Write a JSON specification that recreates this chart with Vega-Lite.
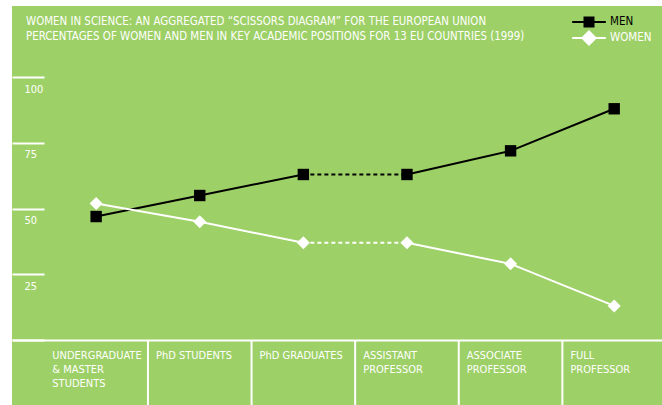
{
  "$schema": "https://vega.github.io/schema/vega-lite/v6.json",
  "autosize": "none",
  "width": 654,
  "height": 399,
  "padding": {"left": 12, "top": 6, "right": 0, "bottom": 0},
  "background": "white",
  "config": {
    "view": {"fill": "#9dd066", "stroke": null},
    "font": "DejaVu Sans Condensed"
  },
  "title": {
    "text": ["WOMEN IN SCIENCE: AN AGGREGATED “SCISSORS DIAGRAM” FOR THE EUROPEAN UNION", "PERCENTAGES OF WOMEN AND MEN IN KEY ACADEMIC POSITIONS FOR 13 EU COUNTRIES (1999)"],
    "anchor": "start",
    "frame": "group",
    "orient": "top",
    "baseline": "top",
    "offset": -36,
    "dx": 14,
    "font": "DejaVu Sans Condensed",
    "fontSize": 11.4,
    "fontWeight": "normal",
    "color": "white",
    "lineHeight": 15
  },
  "data": {
    "values": [
      {"category": "UNDERGRADUATE\n& MASTER\nSTUDENTS", "series": "MEN", "value": 47},
      {"category": "PhD STUDENTS", "series": "MEN", "value": 55},
      {"category": "PhD GRADUATES", "series": "MEN", "value": 63},
      {"category": "ASSISTANT\nPROFESSOR", "series": "MEN", "value": 63},
      {"category": "ASSOCIATE\nPROFESSOR", "series": "MEN", "value": 72},
      {"category": "FULL\nPROFESSOR", "series": "MEN", "value": 88},
      {"category": "UNDERGRADUATE\n& MASTER\nSTUDENTS", "series": "WOMEN", "value": 52},
      {"category": "PhD STUDENTS", "series": "WOMEN", "value": 45},
      {"category": "PhD GRADUATES", "series": "WOMEN", "value": 37},
      {"category": "ASSISTANT\nPROFESSOR", "series": "WOMEN", "value": 37},
      {"category": "ASSOCIATE\nPROFESSOR", "series": "WOMEN", "value": 29},
      {"category": "FULL\nPROFESSOR", "series": "WOMEN", "value": 13}
    ]
  },
  "encoding": {
    "x": {
      "field": "category",
      "type": "nominal",
      "sort": null,
      "scale": {"type": "band", "paddingInner": 0, "paddingOuter": 0.156, "align": 1},
      "axis": null
    }
  },
  "layer": [
    {
      "transform": [{"filter": "datum.series === 'MEN'"}],
      "mark": {"type": "text", "align": "left", "baseline": "top", "dx": 8, "dy": 10, "lineBreak": "\n", "lineHeight": 14, "fontSize": 11, "color": "white", "font": "DejaVu Sans Condensed"},
      "encoding": {
        "x": {"field": "category", "type": "nominal", "sort": null, "bandPosition": 0},
        "y": {"datum": 0, "type": "quantitative"},
        "text": {"field": "category"}
      }
    },
    {
      "transform": [{"filter": "datum.series === 'MEN' && datum.category !== 'UNDERGRADUATE\\n& MASTER\\nSTUDENTS'"}],
      "mark": {"type": "rule", "color": "white", "strokeWidth": 2},
      "encoding": {
        "x": {"field": "category", "type": "nominal", "sort": null, "bandPosition": 0},
        "y": {"datum": 0, "type": "quantitative"},
        "y2": {"datum": -25}
      }
    },
    {
      "transform": [{"filter": {"field": "category", "oneOf": ["UNDERGRADUATE\n& MASTER\nSTUDENTS", "PhD STUDENTS", "PhD GRADUATES"]}}],
      "mark": {"type": "line", "strokeWidth": 2},
      "encoding": {
        "y": {
          "field": "value",
          "type": "quantitative",
          "scale": {"domain": [-24.7, 127.1], "nice": false, "zero": false},
          "axis": {
            "orient": "left",
            "values": [0, 25, 50, 75, 100],
            "domain": false,
            "grid": true,
            "gridColor": "white",
            "gridWidth": 2,
            "gridOpacity": {"condition": {"test": "datum.value === 0", "value": 1}, "value": 0},
            "title": null,
            "tickColor": "white",
            "tickWidth": 2,
            "tickSize": -32,
            "labelPadding": 20,
            "labelAlign": "left",
            "labelBaseline": "middle",
            "labelOffset": 12,
            "labelColor": "white",
            "labelExpr": "datum.value === 0 ? '' : datum.label",
            "labelFont": "DejaVu Sans Condensed",
            "labelFontSize": 11,
            "labelFlush": false,
            "labelOverlap": false
          }
        },
        "stroke": {
          "field": "series",
          "type": "nominal",
          "scale": {"domain": ["MEN", "WOMEN"], "range": ["black", "white"]},
          "legend": {
            "orient": "none",
            "legendX": 570,
            "legendY": 9,
            "title": null,
            "rowPadding": -4,
            "symbolSize": 144,
            "symbolStrokeWidth": 2,
            "symbolType": "M-2.8,0H2.8",
            "labelOffset": 14,
            "labelColor": {"expr": "datum.value === 'MEN' ? 'black' : 'white'"},
            "labelFont": "DejaVu Sans Condensed",
            "labelFontSize": 11.5
          }
        }
      }
    },
    {
      "transform": [{"filter": {"field": "category", "oneOf": ["PhD GRADUATES", "ASSISTANT\nPROFESSOR"]}}],
      "mark": {"type": "line", "strokeWidth": 2, "strokeDash": [4, 3]},
      "encoding": {
        "y": {"field": "value", "type": "quantitative"},
        "stroke": {"field": "series", "type": "nominal"}
      }
    },
    {
      "transform": [{"filter": {"field": "category", "oneOf": ["ASSISTANT\nPROFESSOR", "ASSOCIATE\nPROFESSOR", "FULL\nPROFESSOR"]}}],
      "mark": {"type": "line", "strokeWidth": 2},
      "encoding": {
        "y": {"field": "value", "type": "quantitative"},
        "stroke": {"field": "series", "type": "nominal"}
      }
    },
    {
      "transform": [{"filter": "datum.series === 'MEN'"}],
      "mark": {"type": "point", "filled": true, "size": 130, "opacity": 1, "strokeWidth": 0, "shape": "square", "color": "black"},
      "encoding": {
        "y": {"field": "value", "type": "quantitative"}
      }
    },
    {
      "transform": [{"filter": "datum.series === 'WOMEN'"}],
      "mark": {"type": "point", "filled": true, "size": 170, "opacity": 1, "strokeWidth": 0, "shape": "diamond", "color": "white"},
      "encoding": {
        "y": {"field": "value", "type": "quantitative"}
      }
    },
    {
      "mark": {"type": "point", "filled": true, "size": 144, "opacity": 0},
      "encoding": {
        "y": {"field": "value", "type": "quantitative"},
        "fill": {"field": "series", "type": "nominal", "scale": {"domain": ["MEN", "WOMEN"], "range": ["black", "white"]}, "legend": {"orient": "none", "legendX": 570, "legendY": 9, "title": null, "rowPadding": -4, "symbolSize": 144, "symbolOpacity": 1, "symbolStrokeWidth": 2, "labelOffset": 14, "labelColor": {"expr": "datum.value === 'MEN' ? 'black' : 'white'"}, "labelFont": "DejaVu Sans Condensed", "labelFontSize": 11.5}},
        "shape": {"field": "series", "type": "nominal", "scale": {"domain": ["MEN", "WOMEN"], "range": ["M-2.8,0H2.8M-0.75,-0.75H0.75V0.75H-0.75Z", "M-2.8,0H2.8M0,-1.1L1.1,0L0,1.1L-1.1,0Z"]}, "legend": {"orient": "none", "legendX": 570, "legendY": 9, "title": null, "rowPadding": -4, "symbolSize": 144, "symbolOpacity": 1, "symbolStrokeWidth": 2, "labelOffset": 14, "labelColor": {"expr": "datum.value === 'MEN' ? 'black' : 'white'"}, "labelFont": "DejaVu Sans Condensed", "labelFontSize": 11.5}}
      }
    }
  ]
}
